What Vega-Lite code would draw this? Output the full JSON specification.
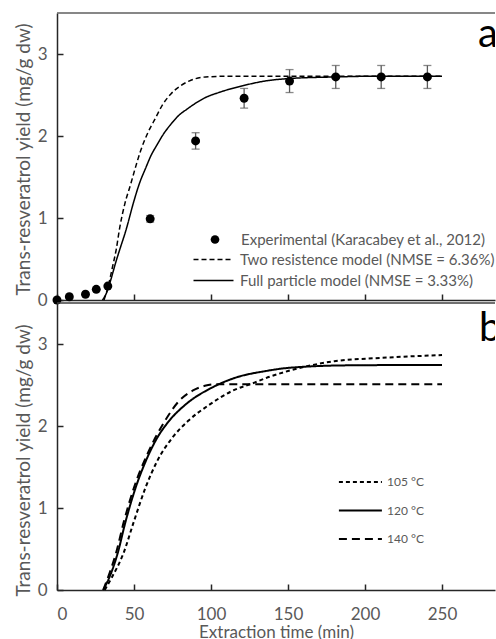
{
  "$schema": "https://vega.github.io/schema/vega-lite/v6.json",
  "padding": {"left": 14, "top": 12, "right": 0, "bottom": 0},
  "background": "white",
  "spacing": 3,
  "bounds": "flush",
  "config": {
    "font": "Lato",
    "view": {"stroke": null},
    "axis": {
      "domainColor": "#262626", "domainWidth": 1.5,
      "tickColor": "#262626", "tickWidth": 1.5, "tickSize": -6,
      "grid": false,
      "labelColor": "#595959", "titleColor": "#595959",
      "labelFont": "Lato", "titleFont": "Lato",
      "labelFontSize": 17, "titleFontSize": 19, "titleFontWeight": "normal", "titleLimit": 400
    },
    "legend": {"labelColor": "#595959", "labelFont": "Lato", "padding": 0, "titlePadding": 0}
  },
  "datasets": {
    "exp": [
      {"t": 0, "y": 0.0, "err": 0, "series": "Experimental (Karacabey et al., 2012)"},
      {"t": 8, "y": 0.04, "err": 0, "series": "Experimental (Karacabey et al., 2012)"},
      {"t": 18.5, "y": 0.07, "err": 0, "series": "Experimental (Karacabey et al., 2012)"},
      {"t": 25.5, "y": 0.13, "err": 0, "series": "Experimental (Karacabey et al., 2012)"},
      {"t": 33, "y": 0.17, "err": 0, "series": "Experimental (Karacabey et al., 2012)"},
      {"t": 60.5, "y": 0.99, "err": 0.04, "series": "Experimental (Karacabey et al., 2012)"},
      {"t": 90, "y": 1.94, "err": 0.1, "series": "Experimental (Karacabey et al., 2012)"},
      {"t": 121.5, "y": 2.46, "err": 0.12, "series": "Experimental (Karacabey et al., 2012)"},
      {"t": 151, "y": 2.67, "err": 0.14, "series": "Experimental (Karacabey et al., 2012)"},
      {"t": 181, "y": 2.72, "err": 0.14, "series": "Experimental (Karacabey et al., 2012)"},
      {"t": 210.5, "y": 2.72, "err": 0.14, "series": "Experimental (Karacabey et al., 2012)"},
      {"t": 240.5, "y": 2.72, "err": 0.14, "series": "Experimental (Karacabey et al., 2012)"}
    ],
    "topLines": [
      {"t": 30.5, "y": 0, "series": "Two resistence model (NMSE = 6.36%)"},
      {"t": 33, "y": 0.15, "series": "Two resistence model (NMSE = 6.36%)"},
      {"t": 36, "y": 0.4, "series": "Two resistence model (NMSE = 6.36%)"},
      {"t": 38.5, "y": 0.62, "series": "Two resistence model (NMSE = 6.36%)"},
      {"t": 40.7, "y": 0.88, "series": "Two resistence model (NMSE = 6.36%)"},
      {"t": 44, "y": 1.17, "series": "Two resistence model (NMSE = 6.36%)"},
      {"t": 47.8, "y": 1.41, "series": "Two resistence model (NMSE = 6.36%)"},
      {"t": 51, "y": 1.62, "series": "Two resistence model (NMSE = 6.36%)"},
      {"t": 54.3, "y": 1.82, "series": "Two resistence model (NMSE = 6.36%)"},
      {"t": 59, "y": 2.04, "series": "Two resistence model (NMSE = 6.36%)"},
      {"t": 64, "y": 2.22, "series": "Two resistence model (NMSE = 6.36%)"},
      {"t": 68.5, "y": 2.38, "series": "Two resistence model (NMSE = 6.36%)"},
      {"t": 73.8, "y": 2.51, "series": "Two resistence model (NMSE = 6.36%)"},
      {"t": 80, "y": 2.61, "series": "Two resistence model (NMSE = 6.36%)"},
      {"t": 85.7, "y": 2.67, "series": "Two resistence model (NMSE = 6.36%)"},
      {"t": 96.5, "y": 2.72, "series": "Two resistence model (NMSE = 6.36%)"},
      {"t": 115, "y": 2.73, "series": "Two resistence model (NMSE = 6.36%)"},
      {"t": 250, "y": 2.73, "series": "Two resistence model (NMSE = 6.36%)"},
      {"t": 29.5, "y": 0, "series": "Full particle model (NMSE = 3.33%)"},
      {"t": 32, "y": 0.08, "series": "Full particle model (NMSE = 3.33%)"},
      {"t": 35, "y": 0.25, "series": "Full particle model (NMSE = 3.33%)"},
      {"t": 38, "y": 0.45, "series": "Full particle model (NMSE = 3.33%)"},
      {"t": 41, "y": 0.63, "series": "Full particle model (NMSE = 3.33%)"},
      {"t": 44.6, "y": 0.84, "series": "Full particle model (NMSE = 3.33%)"},
      {"t": 50, "y": 1.21, "series": "Full particle model (NMSE = 3.33%)"},
      {"t": 53.5, "y": 1.42, "series": "Full particle model (NMSE = 3.33%)"},
      {"t": 57.6, "y": 1.61, "series": "Full particle model (NMSE = 3.33%)"},
      {"t": 61, "y": 1.76, "series": "Full particle model (NMSE = 3.33%)"},
      {"t": 65.2, "y": 1.9, "series": "Full particle model (NMSE = 3.33%)"},
      {"t": 69, "y": 2.02, "series": "Full particle model (NMSE = 3.33%)"},
      {"t": 73.8, "y": 2.14, "series": "Full particle model (NMSE = 3.33%)"},
      {"t": 79, "y": 2.25, "series": "Full particle model (NMSE = 3.33%)"},
      {"t": 84.6, "y": 2.33, "series": "Full particle model (NMSE = 3.33%)"},
      {"t": 90, "y": 2.4, "series": "Full particle model (NMSE = 3.33%)"},
      {"t": 96.5, "y": 2.47, "series": "Full particle model (NMSE = 3.33%)"},
      {"t": 105, "y": 2.53, "series": "Full particle model (NMSE = 3.33%)"},
      {"t": 120, "y": 2.61, "series": "Full particle model (NMSE = 3.33%)"},
      {"t": 135, "y": 2.67, "series": "Full particle model (NMSE = 3.33%)"},
      {"t": 150, "y": 2.7, "series": "Full particle model (NMSE = 3.33%)"},
      {"t": 180, "y": 2.72, "series": "Full particle model (NMSE = 3.33%)"},
      {"t": 210, "y": 2.73, "series": "Full particle model (NMSE = 3.33%)"},
      {"t": 250, "y": 2.73, "series": "Full particle model (NMSE = 3.33%)"}
    ],
    "botLines": [
      {"t": 31, "y": 0, "series": "105 °C"},
      {"t": 35.5, "y": 0.15, "series": "105 °C"},
      {"t": 43, "y": 0.44, "series": "105 °C"},
      {"t": 50, "y": 0.84, "series": "105 °C"},
      {"t": 57.5, "y": 1.25, "series": "105 °C"},
      {"t": 65, "y": 1.57, "series": "105 °C"},
      {"t": 75, "y": 1.86, "series": "105 °C"},
      {"t": 85, "y": 2.06, "series": "105 °C"},
      {"t": 99, "y": 2.26, "series": "105 °C"},
      {"t": 114, "y": 2.43, "series": "105 °C"},
      {"t": 127, "y": 2.52, "series": "105 °C"},
      {"t": 138, "y": 2.6, "series": "105 °C"},
      {"t": 150, "y": 2.67, "series": "105 °C"},
      {"t": 165, "y": 2.74, "series": "105 °C"},
      {"t": 180, "y": 2.79, "series": "105 °C"},
      {"t": 210, "y": 2.83, "series": "105 °C"},
      {"t": 250, "y": 2.865, "series": "105 °C"},
      {"t": 30, "y": 0, "series": "120 °C"},
      {"t": 35, "y": 0.2, "series": "120 °C"},
      {"t": 39.2, "y": 0.435, "series": "120 °C"},
      {"t": 44.6, "y": 0.84, "series": "120 °C"},
      {"t": 51.1, "y": 1.25, "series": "120 °C"},
      {"t": 57.6, "y": 1.57, "series": "120 °C"},
      {"t": 65.2, "y": 1.86, "series": "120 °C"},
      {"t": 72.7, "y": 2.06, "series": "120 °C"},
      {"t": 84, "y": 2.27, "series": "120 °C"},
      {"t": 100.8, "y": 2.47, "series": "120 °C"},
      {"t": 116, "y": 2.59, "series": "120 °C"},
      {"t": 135.5, "y": 2.67, "series": "120 °C"},
      {"t": 151, "y": 2.71, "series": "120 °C"},
      {"t": 190, "y": 2.74, "series": "120 °C"},
      {"t": 250, "y": 2.745, "series": "120 °C"},
      {"t": 30, "y": 0, "series": "140 °C"},
      {"t": 34, "y": 0.2, "series": "140 °C"},
      {"t": 38.1, "y": 0.435, "series": "140 °C"},
      {"t": 43.5, "y": 0.84, "series": "140 °C"},
      {"t": 50, "y": 1.25, "series": "140 °C"},
      {"t": 58.5, "y": 1.65, "series": "140 °C"},
      {"t": 70, "y": 2.06, "series": "140 °C"},
      {"t": 79, "y": 2.3, "series": "140 °C"},
      {"t": 88, "y": 2.43, "series": "140 °C"},
      {"t": 96, "y": 2.49, "series": "140 °C"},
      {"t": 103, "y": 2.51, "series": "140 °C"},
      {"t": 250, "y": 2.51, "series": "140 °C"}
    ],
    "labelA": [{"t": 273.4, "y": 3.08, "label": "a"}],
    "labelB": [{"t": 274, "y": 3.04, "label": "b"}]
  },
  "resolve": {
    "scale": {"strokeDash": "independent", "shape": "independent"},
    "legend": {"strokeDash": "independent", "shape": "independent"}
  },
  "vconcat": [
    {
      "width": 438,
      "height": 287,
      "encoding": {
        "x": {"field": "t", "type": "quantitative", "scale": {"domain": [0, 284.4], "nice": false},
              "axis": {"orient": "bottom", "values": [0, 50, 100, 150, 200, 250], "labels": false, "title": null}},
        "y": {"field": "y", "type": "quantitative", "scale": {"domain": [0, 3.5], "nice": false},
              "axis": {"orient": "left", "values": [0, 1, 2, 3], "labelPadding": 16, "title": "Trans-resveratrol yield (mg/g dw)", "titleY": 146}}
      },
      "layer": [
        {
          "data": {"values": [{"top": 3.5}]},
          "mark": {"type": "rule", "color": "#5f5f5f", "strokeWidth": 1.5},
          "encoding": {"x": null, "y": {"field": "top", "type": "quantitative"}}
        },
        {
          "data": {"name": "exp"},
          "transform": [{"filter": "datum.err > 0"}],
          "mark": {"type": "errorbar", "ticks": {"size": 8}, "color": "#595959", "thickness": 1.3},
          "encoding": {
            "yError": {"field": "err"}
          }
        },
        {
          "data": {"name": "exp"},
          "mark": {"type": "point", "filled": true, "size": 80, "color": "black", "opacity": 1},
          "encoding": {
            "shape": {"field": "series", "type": "nominal",
                      "scale": {"domain": ["Experimental (Karacabey et al., 2012)"], "range": ["circle"]},
                      "legend": {"orient": "none", "legendX": 150.5, "legendY": 219, "title": null,
                                 "labelFontSize": 15, "labelOffset": 18.5, "labelLimit": 300,
                                 "symbolSize": 75, "symbolFillColor": "black", "symbolStrokeColor": "black", "symbolType": "circle"}}
          }
        },
        {
          "data": {"name": "topLines"},
          "mark": {"type": "line", "color": "black", "strokeWidth": 1.5, "interpolate": "monotone"},
          "encoding": {
            "strokeDash": {"field": "series", "type": "nominal",
                           "scale": {"domain": ["Two resistence model (NMSE = 6.36%)", "Full particle model (NMSE = 3.33%)"], "range": [[5, 3], [1, 0]]},
                           "legend": {"orient": "none", "legendX": 149, "legendY": 239, "title": null,
                                      "labelFontSize": 15, "labelOffset": 19, "labelLimit": 300, "rowPadding": 5,
                                      "symbolType": "M-4,0H4", "symbolSize": 100, "symbolStrokeColor": "black", "symbolStrokeWidth": 1.5}}
          }
        },
        {
          "data": {"name": "labelA"},
          "mark": {"type": "text", "align": "left", "baseline": "alphabetic", "fontSize": 40, "color": "black", "font": "Lato", "clip": true},
          "encoding": {
            "text": {"field": "label"}
          }
        }
      ]
    },
    {
      "width": 438,
      "height": 287,
      "encoding": {
        "x": {"field": "t", "type": "quantitative", "scale": {"domain": [0, 284.4], "nice": false},
              "axis": {"orient": "bottom", "values": [0, 50, 100, 150, 200, 250], "labelPadding": 22, "title": "Extraction time (min)", "titlePadding": 2, "titleFontSize": 17}},
        "y": {"field": "y", "type": "quantitative", "scale": {"domain": [0, 3.5], "nice": false},
              "axis": {"orient": "left", "values": [0, 1, 2, 3], "labelPadding": 16, "title": "Trans-resveratrol yield (mg/g dw)", "titleY": 157}}
      },
      "layer": [
        {
          "data": {"values": [{"top": 3.5}]},
          "mark": {"type": "rule", "color": "#404040", "strokeWidth": 1.5},
          "encoding": {"x": null, "y": {"field": "top", "type": "quantitative"}}
        },
        {
          "data": {"name": "botLines"},
          "mark": {"type": "line", "color": "black", "strokeWidth": 2, "interpolate": "monotone"},
          "encoding": {
            "strokeDash": {"field": "series", "type": "nominal",
                           "scale": {"domain": ["105 °C", "120 °C", "140 °C"], "range": [[4, 3], [1, 0], [8, 5]]},
                           "legend": {"orient": "none", "legendX": 297.4, "legendY": 173, "title": null,
                                      "labelFontSize": 12, "labelOffset": 20.6, "rowPadding": 16.5,
                                      "symbolType": "M-4.3,0H4.3", "symbolSize": 100, "symbolStrokeColor": "black", "symbolStrokeWidth": 2}}
          }
        },
        {
          "data": {"name": "labelB"},
          "mark": {"type": "text", "align": "left", "baseline": "alphabetic", "fontSize": 40, "color": "black", "font": "Lato", "clip": true},
          "encoding": {
            "text": {"field": "label"}
          }
        }
      ]
    }
  ]
}
